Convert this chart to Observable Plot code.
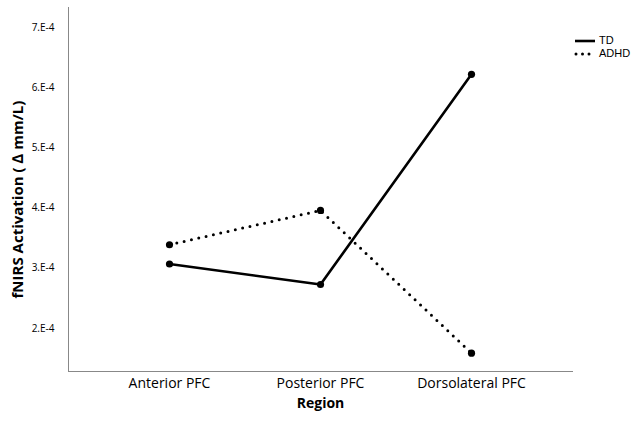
<!DOCTYPE html>
<html>
<head>
<meta charset="utf-8">
<script src="https://cdn.jsdelivr.net/npm/d3@7"></script>
<script src="https://cdn.jsdelivr.net/npm/@observablehq/plot@0.6"></script>
<style>
  body { margin: 0; background: #fff; font-family: "Open Sans", sans-serif; }
  #wrap { position: relative; width: 633px; height: 423px; overflow: hidden; }
  #legend { position: absolute; left: 574px; top: 34px; font-family: "Liberation Sans", Arial, sans-serif; font-size: 11px; color: #000; }
  #legend div { display: flex; align-items: center; white-space: nowrap; height: 13px; line-height: 13px; }
  #legend svg { margin-right: 3px; }
</style>
</head>
<body>
<div id="wrap"><div id="legend"></div></div>
<script>
const regions = ["Anterior PFC", "Posterior PFC", "Dorsolateral PFC"];
const groups = ["TD", "ADHD"];
const tdValues = [3.07e-4, 2.73e-4, 6.22e-4];
const adhdValues = [3.39e-4, 3.96e-4, 1.59e-4];
const yTicks = [2e-4, 3e-4, 4e-4, 5e-4, 6e-4, 7e-4];

const data = [
  ...regions.map((r, i) => ({region: r, group: "TD", value: tdValues[i]})),
  ...regions.map((r, i) => ({region: r, group: "ADHD", value: adhdValues[i]}))
];
const dashFor = {TD: null, ADHD: "0,7.5"};

const plot = Plot.plot({
  width: 633,
  height: 423,
  marginLeft: 68,
  marginRight: 61,
  marginTop: 7,
  marginBottom: 52,
  style: {fontFamily: "Open Sans, sans-serif", background: "#fff"},
  x: {type: "point", domain: regions, padding: 0.658, label: null},
  y: {domain: [1.285e-4, 7.33e-4], label: null},
  marks: [
    Plot.frame({anchor: "left", stroke: "#888"}),
    Plot.frame({anchor: "bottom", stroke: "#888"}),
    Plot.axisY({ticks: yTicks, tickSize: 0, tickPadding: 14, fontSize: 10,
      tickFormat: d => `${Math.round(d * 1e4)}.E-4`, label: null}),
    Plot.axisX({tickSize: 0, tickPadding: 7, fontSize: 14, label: null}),
    Plot.text(["Region"], {frameAnchor: "bottom", dy: 36, fontSize: 14, fontWeight: "bold"}),
    Plot.text(["fNIRS Activation ( \u2206 mm/L)"], {frameAnchor: "left", textAnchor: "middle", dx: -50, dy: 10, rotate: -90, fontSize: 15, fontWeight: "bold"}),
    ...groups.map(g => Plot.line(data.filter(d => d.group === g), {
      x: "region", y: "value", stroke: "#000",
      strokeWidth: g === "TD" ? 2.6 : 3,
      strokeDasharray: dashFor[g], strokeLinecap: "round"
    })),
    Plot.dot(data, {x: "region", y: "value", r: 3.6, fill: "#000"})
  ]
});
const wrap = document.getElementById("wrap");
wrap.insertBefore(plot, wrap.firstChild);

const legend = document.getElementById("legend");
for (const g of groups) {
  const row = document.createElement("div");
  const dash = dashFor[g] ? `stroke-dasharray="${dashFor[g].replace('7.5','6.5')}" stroke-linecap="round" stroke-width="3"` : `stroke-width="2.6"`;
  row.innerHTML = `<svg width="22" height="10"><line x1="${dashFor[g] ? 2 : 1}" x2="21" y1="5" y2="5" stroke="#000" ${dash}/></svg><span>${g}</span>`;
  legend.appendChild(row);
}
</script>
</body>
</html>
